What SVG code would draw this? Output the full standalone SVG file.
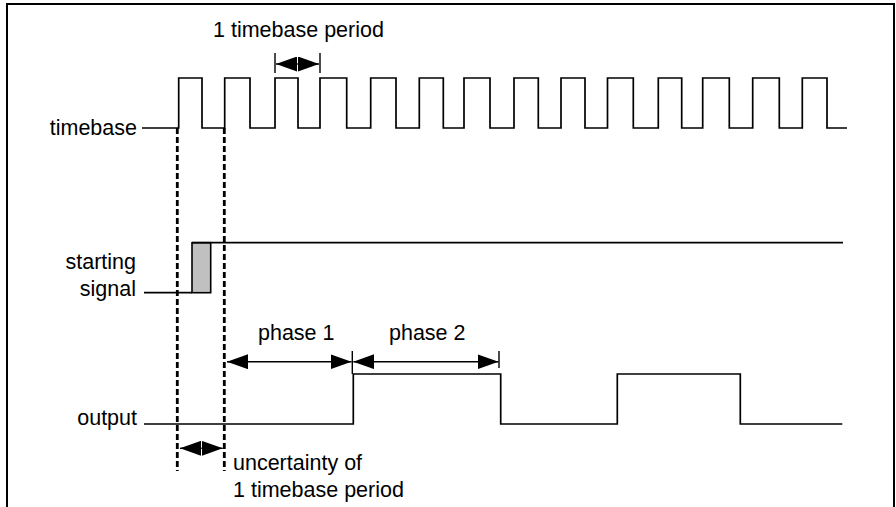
<svg xmlns="http://www.w3.org/2000/svg" width="896" height="507" viewBox="0 0 896 507">
<style>
.w{fill:none;stroke:#000;stroke-width:1.7}
.d{fill:none;stroke:#000;stroke-width:2.8;stroke-dasharray:6,3}
.a{fill:none;stroke:#000;stroke-width:1.4}
.t{font-family:"Liberation Sans",Arial,sans-serif;font-size:21.5px;fill:#000}
.r{text-anchor:end}
</style>
<defs>
<marker id="ah" markerUnits="userSpaceOnUse" markerWidth="21" markerHeight="15" refX="21" refY="7.5" orient="auto-start-reverse" viewBox="0 0 21 15">
<path d="M0,0 L21,7.5 L0,15 z" fill="#000"/>
</marker>
</defs>
<rect width="896" height="507" fill="#fff"/>
<path d="M7,507 V4 H894 V507" fill="none" stroke="#000" stroke-width="2"/>
<g id="timebase">
<text class="t r" x="137" y="135">timebase</text>
<path class="w" d="M142,128 H178.7 V78 H202 V128 H224.7 V78 H250 V128 H275 V78 H298 V128 H320 V78 H346.7 V128 H370.7 V78 H396 V128 H419.3 V78 H443.3 V128 H464 V78 H490 V128 H514 V78 H538.3 V128 H561 V78 H585 V128 H607.5 V78 H633.3 V128 H658.3 V78 H681.7 V128 H702.7 V78 H729.3 V128 H752.7 V78 H779.3 V128 H802.3 V78 H827 V128 H847"/>
</g>
<g id="starting-signal">
<text class="t r" x="136" y="269">starting</text>
<text class="t r" x="136" y="296">signal</text>
<path class="w" d="M144,292.7 H192"/>
<rect x="192" y="242.7" width="18.7" height="50" fill="#c0c0c0" stroke="#000" stroke-width="1.6"/>
<path class="w" d="M192,242.7 H843"/>
</g>
<g id="output">
<text class="t r" x="137" y="425">output</text>
<path class="w" d="M144,424 H353.3 V374 H500.7 V424 H617.3 V374 H740.3 V424 H842.3"/>
</g>
<g id="connectors">
<path class="d" d="M177.3,128 V471"/>
<path class="d" d="M224.3,128 V471"/>
<path class="a" d="M275,53 V73 M320,53 V73"/>
<line class="a" x1="297.5" y1="64" x2="276" y2="64" marker-end="url(#ah)"/>
<line class="a" x1="297.5" y1="64" x2="319" y2="64" marker-end="url(#ah)"/>
<text class="t" x="213" y="37">1 timebase period</text>
<path class="a" d="M352.3,351 V374 M499,351 V368"/>
<line class="a" x1="227" y1="361.7" x2="351.5" y2="361.7" marker-start="url(#ah)" marker-end="url(#ah)"/>
<line class="a" x1="353.3" y1="361.7" x2="498.5" y2="361.7" marker-start="url(#ah)" marker-end="url(#ah)"/>
<text class="t" x="258" y="340">phase 1</text>
<text class="t" x="389" y="340">phase 2</text>
<line class="a" x1="201.5" y1="448.3" x2="180" y2="448.3" marker-end="url(#ah)"/>
<line class="a" x1="201.5" y1="448.3" x2="222.7" y2="448.3" marker-end="url(#ah)"/>
<text class="t" x="233" y="470">uncertainty of</text>
<text class="t" x="233" y="497">1 timebase period</text>
</g>
</svg>
